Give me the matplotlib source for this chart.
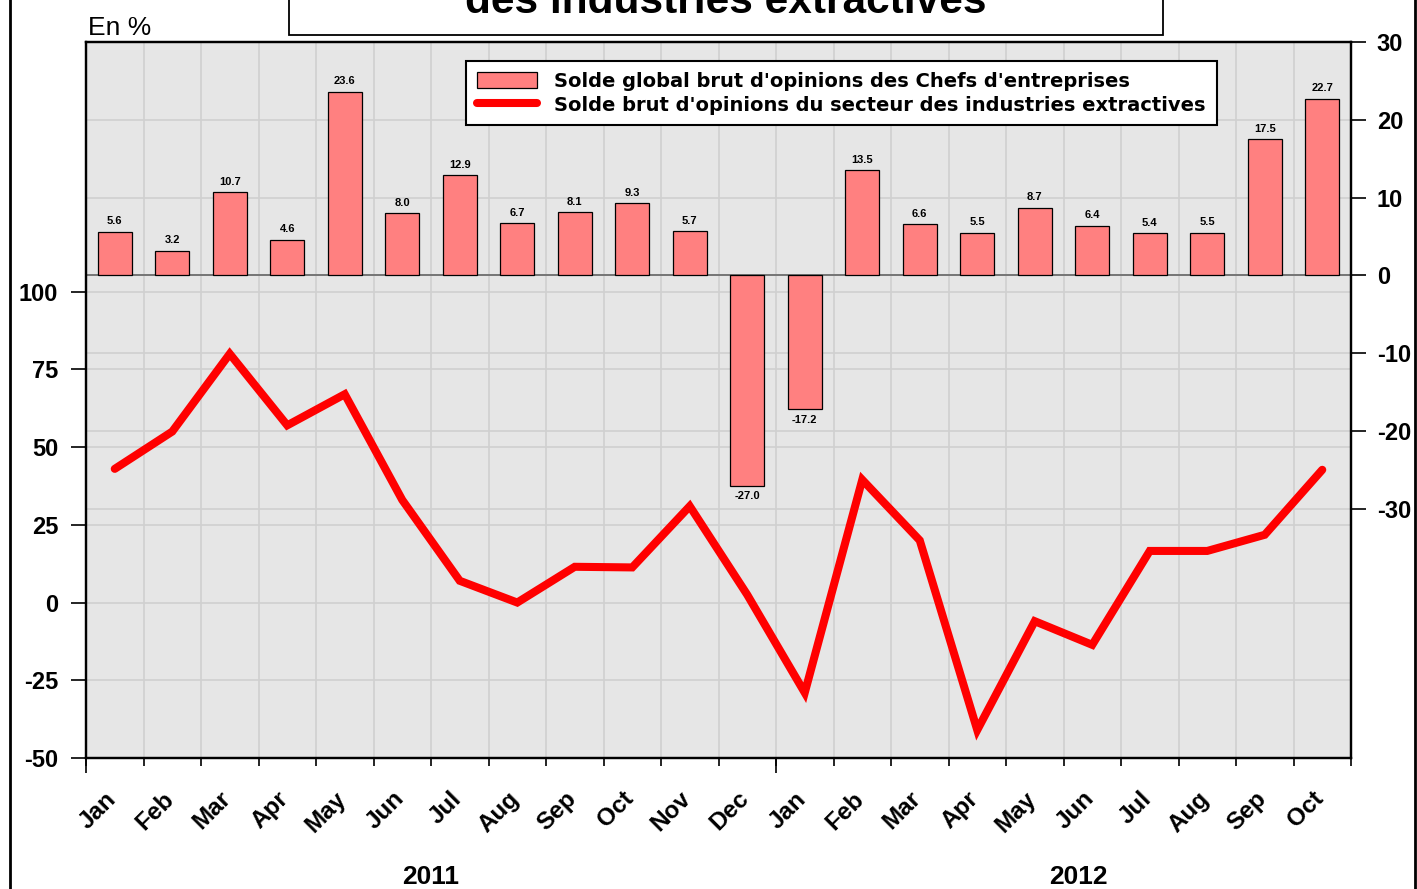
import matplotlib
matplotlib.use('Agg')
import matplotlib.pyplot as plt
import numpy as np
from matplotlib.transforms import blended_transform_factory, ScaledTranslation
from matplotlib.lines import Line2D
from matplotlib.patches import Rectangle

plt.rcParams['font.family'] = ['Liberation Sans', 'DejaVu Sans']
plt.rcParams['font.weight'] = 'bold'
plt.rcParams['axes.unicode_minus'] = False

# ---------------- data ----------------
months = ['Jan', 'Feb', 'Mar', 'Apr', 'May', 'Jun', 'Jul', 'Aug', 'Sep', 'Oct', 'Nov', 'Dec',
          'Jan', 'Feb', 'Mar', 'Apr', 'May', 'Jun', 'Jul', 'Aug', 'Sep', 'Oct']
years = ['2011', '2012']
chefs_solde = [5.6, 3.2, 10.7, 4.6, 23.6, 8.0, 12.9, 6.7, 8.1, 9.3, 5.7, -27.0,
               -17.2, 13.5, 6.6, 5.5, 8.7, 6.4, 5.4, 5.5, 17.5, 22.7]
extractives_solde = [43, 55, 80, 57, 67, 33, 7, 0, 11.5, 11.3, 31, 2.5,
                     -29, 39.5, 20, -41, -6, -13.6, 16.6, 16.6, 21.8, 42.7]
left_ticks = [-50, -25, 0, 25, 50, 75, 100]
right_ticks = [-30, -20, -10, 0, 10, 20, 30]
legend_labels = ["Solde global brut d'opinions des Chefs d'entreprises",
                 "Solde brut d'opinions du secteur des industries extractives"]
title_text = "des industries extractives"
unit_text = "En %"

# ---------------- figure ----------------
W, H = 1417, 889
fig = plt.figure(figsize=(W / 100, H / 100), dpi=100)
fig.patch.set_facecolor('white')

pos = [86 / W, 1 - 758 / H, 1265 / W, 716 / H]
ax = fig.add_axes(pos)            # bars, right-hand scale
ax2 = fig.add_axes(pos)           # line, left-hand scale
ax2.patch.set_visible(False)

n = len(months)
centers = np.arange(n) + 0.5
bounds = np.arange(n + 1)

ax.set_xlim(0, n)
ax2.set_xlim(0, n)
ax.set_ylim(-62, 30)
ax2.set_ylim(-50, 180.3)
ax.set_facecolor('#E6E6E6')

grid_c = '#D0D0D0'
ax.set_yticks(right_ticks)
ax.grid(True, axis='y', which='major', color=grid_c, lw=1.2, zorder=0.5)
ax.set_xticks(bounds, minor=True)
ax.grid(True, axis='x', which='minor', color=grid_c, lw=1.2, zorder=0.5)
ax.set_axisbelow(True)
btr = blended_transform_factory(ax.transAxes, ax2.transData)
for v in left_ticks:
    ax.add_line(Line2D([0, 1], [v, v], transform=btr, color=grid_c, lw=1.2, zorder=0.5))
ax.axhline(0, color='#6E6E6E', lw=1.3, zorder=1)

# bars
bars = ax.bar(centers, chefs_solde, width=0.59, color='#FF8080', edgecolor='black',
              linewidth=0.9, zorder=3)
ax.bar_label(bars, labels=[f'{v:.1f}' for v in chefs_solde], padding=4,
             fontsize=8, fontweight='bold')

# line
line, = ax2.plot(centers, extractives_solde, color='#FF0000', lw=5.8,
                 solid_capstyle='round', solid_joinstyle='miter', zorder=3)

# y axes
ax.yaxis.tick_right()
ax.tick_params(axis='y', which='major', direction='out', length=10.5, width=1.2,
               labelsize=17, pad=8)
ax2.set_yticks(left_ticks)
ax2.yaxis.tick_left()
ax2.tick_params(axis='y', which='major', direction='out', length=10.5, width=1.2,
                labelsize=17, pad=9.5)

# x axis labels at month centres
ax.set_xticks(centers)
ax.set_xticklabels(months, rotation=45, ha='right', va='top', fontsize=17.5)
ax.tick_params(axis='x', which='major', length=0, pad=21)
ax.tick_params(axis='x', which='minor', length=6, width=1.2, direction='out')
off = ScaledTranslation(6 / 100, 0, fig.dpi_scale_trans)
for lab in ax.get_xticklabels():
    lab.set_transform(lab.get_transform() + off)

# longer year ticks
ax2.set_xticks([0, 12])
ax2.tick_params(axis='x', which='major', length=11, width=1.2, labelbottom=False,
                direction='out')

for a in (ax, ax2):
    for s in a.spines.values():
        s.set_linewidth(1.6)
        s.set_color('black')

# year labels
ytr = blended_transform_factory(ax.transData, ax.transAxes)
ax.text(6.0, -0.166, years[0], transform=ytr, ha='center', va='center', fontsize=19)
ax.text(17.25, -0.166, years[1], transform=ytr, ha='center', va='center', fontsize=19)

# legend
leg = ax2.legend([bars, line], legend_labels, loc='upper left',
                 bbox_to_anchor=(0.3004, 0.9735), frameon=True, fancybox=False,
                 edgecolor='black', framealpha=1,
                 prop={'size': 14, 'weight': 'bold', 'family': 'DejaVu Sans'},
                 handlelength=3.1, handleheight=0.85, handletextpad=0.9,
                 labelspacing=0.25, borderpad=0.55, borderaxespad=0)
leg.get_frame().set_linewidth(1.5)

# unit text
fig.text(88 / W, 1 - 28 / H, unit_text, ha='left', va='center', fontsize=19,
         fontweight='normal')

# title box (cut at top, as in the source)
fig.add_artist(Rectangle((289 / W, 1 - 35 / H), (1163 - 289) / W, 0.2,
                         transform=fig.transFigure, facecolor='white',
                         edgecolor='black', lw=1.3, zorder=5))
fig.text(726 / W, 1 - 13 / H, title_text, ha='center', va='baseline',
         fontsize=30.5, fontweight='bold', zorder=6)

# outer frame lines
for xp in (10, 1415):
    fig.add_artist(Line2D([xp / W, xp / W], [0, 1], transform=fig.transFigure,
                          color='black', lw=2))

fig.savefig('out.png', dpi=100)
